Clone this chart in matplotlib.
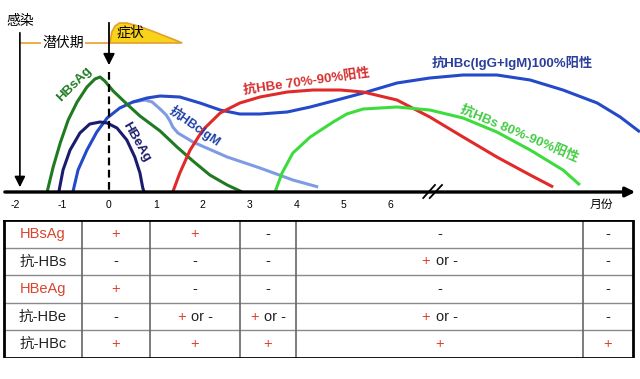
import matplotlib
matplotlib.use('Agg')
import matplotlib.pyplot as plt
from matplotlib.offsetbox import TextArea, HPacker, AnnotationBbox

plt.rcParams['font.family'] = ['Liberation Sans', 'Noto Sans CJK SC', 'DejaVu Sans']

# x = months (0 = onset of symptoms), y = relative level
hbsag_x = [-1.32, -1.19, -1.04, -0.87, -0.68, -0.47, -0.30, -0.19, -0.09, 0.09, 0.38, 0.66,
           1.09, 1.45, 1.79, 2.15, 2.52, 2.84]
hbsag_y = [0.00, 0.25, 0.49, 0.72, 0.90, 1.05, 1.13, 1.15, 1.11, 1.01, 0.88, 0.76,
           0.61, 0.45, 0.31, 0.17, 0.07, 0.00]

hbeag_x = [-1.07, -0.98, -0.83, -0.62, -0.41, -0.19, -0.04, 0.17, 0.38, 0.55, 0.66, 0.72, 0.75]
hbeag_y = [0.00, 0.22, 0.42, 0.59, 0.68, 0.70, 0.69, 0.64, 0.52, 0.35, 0.19, 0.04, 0.00]

hbc_x = [-0.77, -0.66, -0.47, -0.26, -0.04, 0.23, 0.51, 0.81, 1.09, 1.51, 1.94, 2.37, 2.79,
         3.22, 3.80, 4.29, 4.86, 5.42, 6.14, 6.84, 7.55, 8.27, 8.98, 9.68, 10.41, 10.90, 11.32]
hbc_y = [0.00, 0.22, 0.42, 0.60, 0.74, 0.84, 0.90, 0.94, 0.96, 0.95, 0.89, 0.82, 0.78,
         0.78, 0.80, 0.85, 0.92, 0.99, 1.09, 1.14, 1.17, 1.17, 1.12, 1.02, 0.89, 0.75, 0.60]

igm_x = [0.51, 0.77, 0.92, 1.09, 1.22, 1.30, 1.36, 1.47, 1.79, 2.52, 3.22, 3.92, 4.46]
igm_y = [0.90, 0.92, 0.90, 0.83, 0.77, 0.71, 0.65, 0.59, 0.50, 0.35, 0.24, 0.12, 0.05]

antihbe_x = [1.36, 1.51, 1.73, 2.00, 2.37, 2.79, 3.22, 3.80, 4.35, 4.93, 5.42, 6.14, 6.84,
             7.55, 8.27, 8.98, 9.47]
antihbe_y = [0.00, 0.19, 0.42, 0.62, 0.79, 0.89, 0.95, 1.00, 1.02, 1.02, 1.00, 0.92, 0.75,
             0.55, 0.35, 0.17, 0.05]

antihbs_x = [3.54, 3.69, 3.92, 4.29, 4.78, 5.07, 5.42, 6.14, 6.84, 7.55, 8.27, 8.98, 9.68, 10.04]
antihbs_y = [0.00, 0.19, 0.39, 0.55, 0.70, 0.78, 0.83, 0.85, 0.82, 0.74, 0.60, 0.42, 0.22, 0.07]

symptom_x = [0.02, 0.06, 0.13, 0.22, 0.38, 0.62, 0.92, 1.19, 1.41, 1.56]
symptom_y = [1.49, 1.60, 1.66, 1.69, 1.69, 1.66, 1.61, 1.56, 1.52, 1.49]

month_ticks = [-2, -1, 0, 1, 2, 3, 4, 5, 6]

# table
row_labels = ['HBsAg', '抗-HBs', 'HBeAg', '抗-HBe', '抗-HBc']
row_label_colors = ['#d9452f', '#222222', '#d9452f', '#222222', '#222222']
table_cells = [
    ['+', '+', '-', '-', '-'],
    ['-', '-', '-', '+ or -', '-'],
    ['+', '-', '-', '-', '-'],
    ['-', '+ or -', '+ or -', '+ or -', '-'],
    ['+', '+', '+', '+', '+'],
]
col_edges = [4, 82, 150, 240, 296, 583, 633]

fig = plt.figure(figsize=(6.4, 3.79), dpi=100)
ax = fig.add_axes([0, 0, 1, 1])
ax.set_xlim(-2.324, 11.322)
ax.set_ylim(-1.87, 1.92)
ax.axis('off')

lw = 2.2
style = dict(lw=lw, solid_joinstyle='round', solid_capstyle='butt')
ax.plot(igm_x, igm_y, color='#7f9be3', **style)
ax.plot(hbc_x, hbc_y, color='#2449c9', **style)
ax.plot(hbeag_x, hbeag_y, color='#1c1c6e', **style)
ax.plot(hbsag_x, hbsag_y, color='#1f7a22', **style)
ax.plot(antihbe_x, antihbe_y, color='#e02a2a', **style)
ax.plot(antihbs_x, antihbs_y, color='#3ddc3d', **style)

# curve labels
bold = dict(fontweight='bold', ha='center', va='center')
ax.text(-0.74, 1.08, 'HBsAg', color='#1f7a22', fontsize=9.5, rotation=45, **bold)
ax.text(0.58, 0.50, 'HBeAg', color='#1c1c6e', fontsize=9.5, rotation=-60, **bold)
ax.text(1.83, 0.66, '抗HBcIgM', color='#2040a8', fontsize=9, rotation=-35, **bold)
ax.text(4.22, 1.10, '抗HBe 70%-90%阳性', color='#d63030', fontsize=9.5, rotation=8, **bold)
ax.text(8.59, 1.29, '抗HBc(IgG+IgM)100%阳性', color='#2a3f9c', fontsize=9.5, **bold)
ax.text(8.74, 0.58, '抗HBs 80%-90%阳性', color='#44cc44', fontsize=9.5, rotation=-23, **bold)

# symptom bump and incubation line
ax.fill(symptom_x, symptom_y, facecolor='#f8d31a', edgecolor='#e0a030', lw=1.2, zorder=3)
ax.text(0.45, 1.60, '症状', fontsize=10, ha='center', va='center', zorder=4)
ax.plot([-1.90, 0.02], [1.49, 1.49], color='#e8a030', lw=1.2)
ax.text(-0.98, 1.49, '潜伏期', fontsize=10, ha='center', va='center',
        bbox=dict(facecolor='white', edgecolor='none', pad=1))
ax.text(-1.90, 1.71, '感染', fontsize=10, ha='center', va='center')
ax.annotate('', xy=(-1.90, 0.02), xytext=(-1.90, 1.62),
            arrowprops=dict(arrowstyle='-|>', color='black', lw=1.2, mutation_scale=16))
ax.annotate('', xy=(0, 1.24), xytext=(0, 1.72),
            arrowprops=dict(arrowstyle='-|>', color='black', lw=1.3, mutation_scale=17), zorder=5)
ax.plot([0, 0], [1.20, 0.0], color='black', lw=1.6, ls=(0, (3.5, 2)))

# time axis
ax.annotate('', xy=(11.28, 0), xytext=(-2.28, 0),
            arrowprops=dict(arrowstyle='-|>', color='black', lw=2.4, mutation_scale=14))
ax.plot([6.70, 6.95], [-0.06, 0.07], color='black', lw=1.3)
ax.plot([6.84, 7.10], [-0.06, 0.07], color='black', lw=1.3)
for m in month_ticks:
    ax.text(m, -0.13, str(m), fontsize=7.5, ha='center', va='center')
ax.text(10.50, -0.13, '月份', fontsize=8.5, ha='center', va='center')

# table
tax = fig.add_axes([0, (379 - 358) / 379, 1, 138 / 379])
tax.set_xlim(0, 640)
tax.set_ylim(5, 0)
tax.axis('off')
for r in range(1, 5):
    tax.plot([col_edges[0], col_edges[-1]], [r, r], color='#8a8a8a', lw=1)
for c in col_edges[1:-1]:
    tax.plot([c, c], [0, 5], color='#666666', lw=1.2)
tax.plot([col_edges[0], col_edges[-1], col_edges[-1], col_edges[0], col_edges[0]],
         [0, 0, 5, 5, 0], color='black', lw=2)

cell_font = 10.5
for r, (lab, lc) in enumerate(zip(row_labels, row_label_colors)):
    yc = r + 0.5
    tax.text((col_edges[0] + col_edges[1]) / 2, yc, lab, color=lc, fontsize=cell_font,
             ha='center', va='center')
    for c, val in enumerate(table_cells[r]):
        xc = (col_edges[c + 1] + col_edges[c + 2]) / 2
        if val == '+':
            tax.text(xc, yc, '+', color='#e0402a', fontsize=cell_font, ha='center', va='center')
        elif val == '-':
            tax.text(xc, yc, '-', color='#222222', fontsize=cell_font, ha='center', va='center')
        else:
            box = HPacker(children=[
                TextArea('+', textprops=dict(color='#e0402a', fontsize=cell_font)),
                TextArea('or -', textprops=dict(color='#222222', fontsize=cell_font)),
            ], align='center', pad=0, sep=4)
            tax.add_artist(AnnotationBbox(box, (xc, yc), frameon=False, box_alignment=(0.5, 0.5)))

fig.savefig('out.png', dpi=100)
